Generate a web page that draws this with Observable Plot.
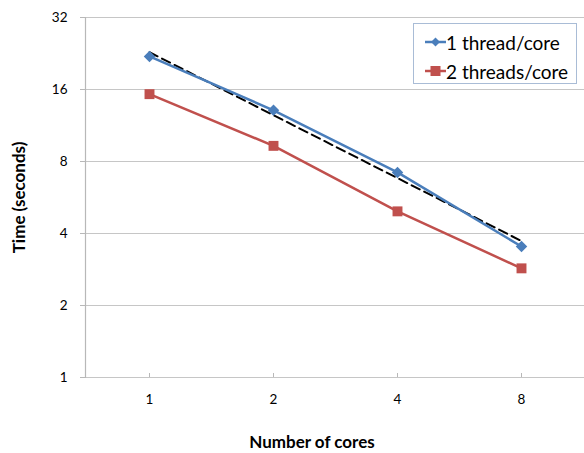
<!DOCTYPE html>
<html>
<head>
<meta charset="utf-8">
<script src="https://cdn.jsdelivr.net/npm/d3@7"></script>
<script src="https://cdn.jsdelivr.net/npm/@observablehq/plot@0.6"></script>
<style>
  body { margin: 0; background: #fff; }
  #wrap { position: relative; width: 584px; height: 453px; font-family: Lato, "Liberation Sans", sans-serif; }
  #legend { position: absolute; left: 413px; top: 23px; width: 162px; height: 59px; border: 1px solid #a9bcd6; background: #fff; box-sizing: content-box; }
  .row { position: absolute; left: 11px; height: 22px; display: flex; align-items: center; font-size: 19px; color: #000; white-space: nowrap; }
  .row svg { margin-right: 0px; }
</style>
</head>
<body>
<div id="wrap"></div>
<script>
const cores = [1, 2, 4, 8];
const oneThread = [22, 13.1, 7.2, 3.53];
const twoThreads = [15.3, 9.3, 4.95, 2.86];
const trendCores = [1, 8];
const trendValues = [22.9, 3.72];
const yTicks = [1, 2, 4, 8, 16, 32];
const seriesNames = ["1 thread/core", "2 threads/core"];
const blue = "#4a7ebb", red = "#c0504d";

const s1 = cores.map((c, i) => ({cores: c, time: oneThread[i]}));
const s2 = cores.map((c, i) => ({cores: c, time: twoThreads[i]}));
const trend = trendCores.map((c, i) => ({cores: c, time: trendValues[i]}));

const chart = Plot.plot({
  width: 584,
  height: 453,
  marginLeft: 85,
  marginRight: 0,
  marginTop: 17,
  marginBottom: 76,
  style: {fontFamily: "Lato, 'Liberation Sans', sans-serif", fontSize: "13.5px", color: "#000", background: "#fff"},
  x: {type: "point", domain: cores, padding: 0.5},
  y: {type: "log", base: 2, domain: [1, 32]},
  marks: [
    Plot.ruleY(yTicks, {stroke: "#c6c6c6", strokeWidth: 1.2}),
    Plot.frame({anchor: "left", stroke: "#b8b8b8", strokeWidth: 1.2}),
    Plot.axisY({ticks: yTicks, tickFormat: d => String(d), tickSize: 5, tickPadding: 13, stroke: "#b8b8b8", label: null, fontSize: 13.5}),
    Plot.axisX({tickSize: -4, tickPadding: 21, stroke: "#b8b8b8", label: null, fontSize: 13.5}),
    Plot.line(trend, {x: "cores", y: "time", stroke: "#000", strokeWidth: 2, strokeDasharray: "9,5"}),
    Plot.line(s1, {x: "cores", y: "time", stroke: blue, strokeWidth: 2.5}),
    Plot.dot(s1, {x: "cores", y: "time", symbol: "diamond2", fill: blue, r: 5.2}),
    Plot.line(s2, {x: "cores", y: "time", stroke: red, strokeWidth: 2.5}),
    Plot.dot(s2, {x: "cores", y: "time", symbol: "square", fill: red, r: 5.6}),
    Plot.text(["Number of cores"], {frameAnchor: "bottom", dx: -23, dy: 70, fontWeight: "bold", fontSize: 17}),
    Plot.text(["Time (seconds)"], {frameAnchor: "left", textAnchor: "middle", dx: -66, rotate: -90, fontWeight: "bold", fontSize: 17})
  ]
});
document.getElementById("wrap").appendChild(chart);

const legend = document.createElement("div");
legend.id = "legend";
const sym = (color, shape) => `<svg width="21" height="12" viewBox="0 0 21 12"><line x1="0" y1="6" x2="21" y2="6" stroke="${color}" stroke-width="2.5"/>${shape === "d" ? `<polygon points="10.5,1.5 15,6 10.5,10.5 6,6" fill="${color}"/>` : `<rect x="5.5" y="1" width="10" height="10" fill="${color}"/>`}</svg>`;
legend.innerHTML =
  `<div class="row" style="top:7px">${sym(blue, "d")}${seriesNames[0]}</div>` +
  `<div class="row" style="top:36px">${sym(red, "s")}${seriesNames[1]}</div>`;
document.getElementById("wrap").appendChild(legend);
</script>
</body>
</html>
